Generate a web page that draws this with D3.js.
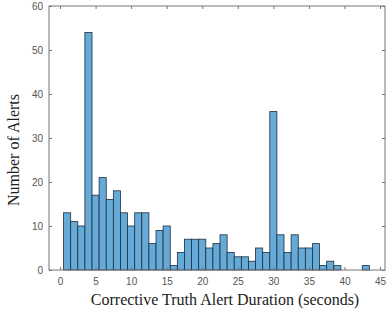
<!DOCTYPE html>
<html>
<head>
<meta charset="utf-8">
<script src="https://cdn.jsdelivr.net/npm/d3@7"></script>
<style>
  html, body { margin: 0; padding: 0; background: #fff; }
  svg { display: block; }
</style>
</head>
<body>
<div id="chart"></div>
<script>
// Bin centres (seconds) and the count in each 1-second bin
const binCenters = [1, 2, 3, 4, 5, 6, 7, 8, 9, 10, 11, 12, 13, 14, 15, 16, 17, 18, 19, 20, 21, 22,
  23, 24, 25, 26, 27, 28, 29, 30, 31, 32, 33, 34, 35, 36, 37, 38, 39, 40, 41, 42, 43]
const counts = [13, 11, 10, 54, 17, 21, 16, 18, 13, 10, 13, 13, 6, 9, 10, 1, 4, 7, 7, 7, 5, 6,
  8, 4, 3, 3, 2, 5, 4, 36, 8, 4, 8, 5, 5, 6, 1, 2, 1, 0, 0, 0, 1]
const binWidth = 1
const xTicks = [0, 5, 10, 15, 20, 25, 30, 35, 40, 45]
const yTicks = [0, 10, 20, 30, 40, 50, 60]

const width = 388
const height = 310
const margin = { top: 6, right: 3, bottom: 40, left: 49 }
const innerW = width - margin.left - margin.right
const innerH = height - margin.top - margin.bottom

const svg = d3.select("#chart")
  .append("svg")
  .attr("width", width)
  .attr("height", height)

const g = svg.append("g")
  .attr("transform", `translate(${margin.left},${margin.top})`)

const x = d3.scaleLinear().domain([-1.55, 45.7]).range([0, innerW])
const y = d3.scaleLinear().domain([0, 60]).range([innerH, 0])

// Bars
const bins = binCenters.map((c, i) => ({ x0: c - binWidth / 2, x1: c + binWidth / 2, n: counts[i] }))

g.selectAll("rect.bar")
  .data(bins.filter((d) => d.n > 0))
  .enter()
  .append("rect")
  .attr("class", "bar")
  .attr("x", (d) => x(d.x0))
  .attr("width", (d) => x(d.x1) - x(d.x0))
  .attr("y", (d) => y(d.n))
  .attr("height", (d) => y(0) - y(d.n))
  .attr("fill", "#66aad7")
  .attr("stroke", "#1c2f3f")
  .attr("stroke-width", 0.8)

// Axes (MATLAB style: inward ticks, box on)
const axisColor = "#777"
const tickLen = 3

const xAxis = d3.axisBottom(x).tickValues(xTicks).tickSizeInner(-tickLen).tickSizeOuter(0).tickPadding(8)
const yAxis = d3.axisLeft(y).tickValues(yTicks).tickSizeInner(-tickLen).tickSizeOuter(0).tickPadding(6)

const gx = g.append("g").attr("transform", `translate(0,${innerH})`).call(xAxis)
const gy = g.append("g").call(yAxis)
const gxTop = g.append("g").call(d3.axisTop(x).tickValues(xTicks).tickSizeInner(-tickLen).tickSizeOuter(0).tickFormat(""))
const gyRight = g.append("g").attr("transform", `translate(${innerW},0)`)
  .call(d3.axisRight(y).tickValues(yTicks).tickSizeInner(-tickLen).tickSizeOuter(0).tickFormat(""))

;[gx, gy, gxTop, gyRight].forEach((a) => {
  a.select(".domain").remove()
  a.selectAll(".tick line").attr("stroke", axisColor)
  a.selectAll(".tick text")
    .attr("fill", "#555")
    .style("font-family", "Liberation Sans, Arial, sans-serif")
    .style("font-size", "10px")
})

// Box
g.append("rect")
  .attr("x", 0)
  .attr("y", 0)
  .attr("width", innerW)
  .attr("height", innerH)
  .attr("fill", "none")
  .attr("stroke", axisColor)
  .attr("stroke-width", 1)

// Axis labels
svg.append("text")
  .attr("x", 225)
  .attr("y", 305)
  .attr("text-anchor", "middle")
  .style("font-family", "Liberation Serif, Times New Roman, serif")
  .style("font-size", "16px")
  .attr("fill", "#222")
  .text("Corrective Truth Alert Duration (seconds)")

svg.append("text")
  .attr("transform", `translate(19,${margin.top + innerH / 2 + 12}) rotate(-90)`)
  .attr("text-anchor", "middle")
  .style("font-family", "Liberation Serif, Times New Roman, serif")
  .style("font-size", "16px")
  .attr("fill", "#222")
  .text("Number of Alerts")
</script>
</body>
</html>
